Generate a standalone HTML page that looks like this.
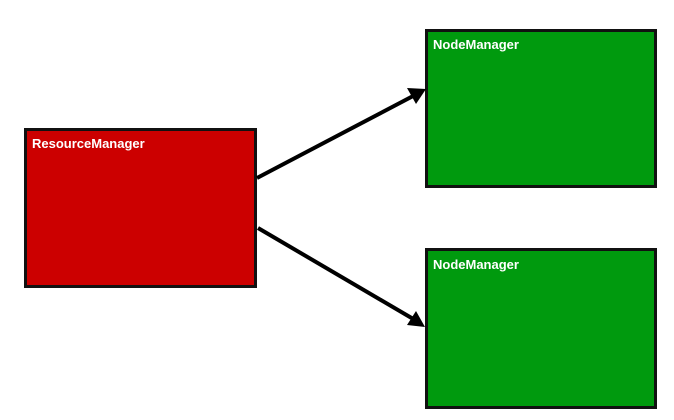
<!DOCTYPE html>
<html><head><style>
html,body{margin:0;padding:0;background:#fff;width:674px;height:420px;overflow:hidden}
.b{position:absolute;box-sizing:border-box;border:3px solid #111}
.t{position:absolute;color:#fff;font:bold 13px "Liberation Sans",sans-serif}
</style></head><body>
<div class="b" style="left:24px;top:128px;width:233px;height:160px;background:#cc0000"></div>
<div class="t" style="left:32px;top:136px">ResourceManager</div>
<div class="b" style="left:425px;top:29px;width:232px;height:159px;background:#009a0e"></div>
<div class="t" style="left:433px;top:37px">NodeManager</div>
<div class="b" style="left:425px;top:248px;width:232px;height:161px;background:#009a0e"></div>
<div class="t" style="left:433px;top:257px">NodeManager</div>
<svg width="674" height="420" style="position:absolute;left:0;top:0">
<g stroke="#000" stroke-width="4" fill="#000">
<line x1="257" y1="178" x2="415" y2="95"/>
<line x1="258" y1="228" x2="415" y2="320"/>
</g>
<polygon points="426,89 407,88 416,104" fill="#000"/>
<polygon points="425,327 416,311 407,325" fill="#000"/>
</svg>
</body></html>
